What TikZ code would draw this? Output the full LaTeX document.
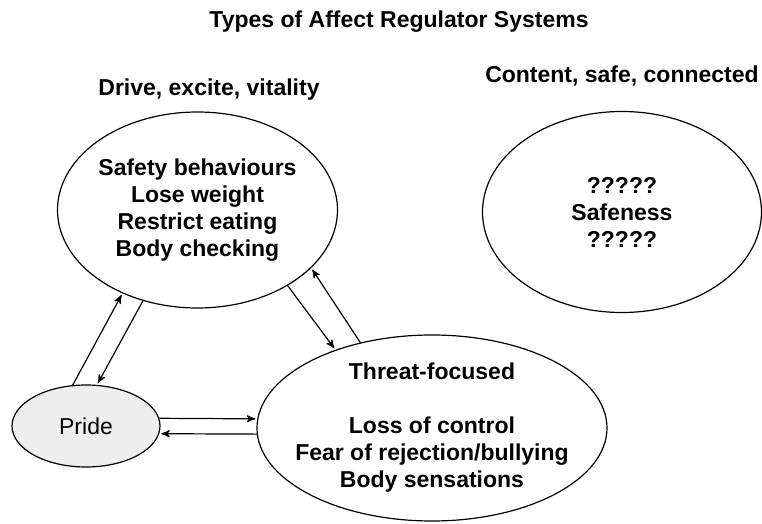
\documentclass[tikz,border=0pt]{standalone}
\usepackage{fontspec}
\setmainfont{Liberation Sans}
\usetikzlibrary{arrows,shapes.geometric}
\definecolor{prideback}{RGB}{238,238,238}

\begin{document}
\begin{tikzpicture}[->,>=stealth',shorten >=1pt,semithick,
                    x=0.5pt,y=-0.5pt]
    \tikzstyle{heading}=[font=\fontsize{11.5}{13.5}\selectfont\bfseries]
    \tikzstyle{system}=[ellipse,draw,align=center,inner sep=-8pt,
      font=\fontsize{11.5}{13.5}\selectfont\bfseries]
    \useasboundingbox (0,0) rectangle (762,524);

    \node[heading] (title) at (399,22) {Types of Affect Regulator Systems};
    \node[heading] (drivehead) at (209,90) {Drive, excite, vitality};
    \node[heading] (safehead) at (622,76) {Content, safe, connected};

    \node[system,minimum width=140pt,minimum height=98pt] (drive)
    at (197.5,210) {Safety behaviours\\Lose weight\\Restrict
      eating\\Body checking};
    \node[system,minimum width=139.5pt,minimum height=100.5pt] (safe)
    at (622,212) {?????\\Safeness\\?????};
    \node[system,minimum width=175pt,minimum height=93pt] (threat)
    at (432,428) {Threat-focused\\[13.5pt]Loss of control\\Fear of
      rejection/bullying\\Body sensations};
    \node[system,fill=prideback,font=\fontsize{11.5}{13.5}\selectfont,
    minimum width=74pt,minimum height=41pt] (pride) at (86,426) {Pride};

    \draw (pride.108) -- (drive.228);
    \draw (drive.239) -- (pride.75);

    \draw (drive.320) -- (threat.141);
    \draw (threat.130) -- (drive.333);

    \draw (pride.6) -- (threat.177);
    \draw (threat.182) -- (pride.354);

\end{tikzpicture}
\end{document}
